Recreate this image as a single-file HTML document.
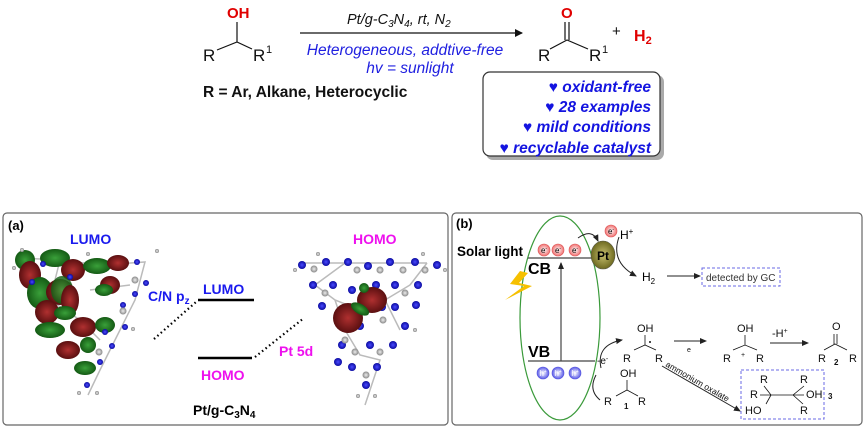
<!DOCTYPE html>
<html><head><style>
body{margin:0;background:#fff;}
svg{display:block;font-family:"Liberation Sans",Arial,sans-serif;}
</style></head><body>
<svg width="866" height="429" viewBox="0 0 866 429" xmlns="http://www.w3.org/2000/svg">
<defs>
<marker id="ah" markerWidth="8" markerHeight="8" refX="7" refY="4" orient="auto" markerUnits="userSpaceOnUse"><path d="M0,0 L8,4 L0,8 Z" fill="#111"/></marker>
<marker id="ahs" markerWidth="7" markerHeight="6" refX="6" refY="3" orient="auto" markerUnits="userSpaceOnUse"><path d="M0,0 L7,3 L0,6 Z" fill="#222"/></marker>
<radialGradient id="gr"><stop offset="0" stop-color="#b03030"/><stop offset="1" stop-color="#5a0f10"/></radialGradient>
<radialGradient id="gg"><stop offset="0" stop-color="#3aa03a"/><stop offset="1" stop-color="#145a14"/></radialGradient>
<radialGradient id="gb"><stop offset="0" stop-color="#4a4aff"/><stop offset="1" stop-color="#0a0aa0"/></radialGradient>
<radialGradient id="gw"><stop offset="0" stop-color="#eee"/><stop offset="1" stop-color="#888"/></radialGradient>
<radialGradient id="ge"><stop offset="0" stop-color="#fff"/><stop offset="1" stop-color="#f07070"/></radialGradient>
<radialGradient id="gh"><stop offset="0" stop-color="#fff"/><stop offset="1" stop-color="#5a5ae8"/></radialGradient>
<radialGradient id="gpt"><stop offset="0" stop-color="#c8c070"/><stop offset="1" stop-color="#6e6a20"/></radialGradient>
</defs>

<!-- Top reaction -->
<g font-size="17" fill="#111">
<text x="227" y="18" fill="#e00000" font-weight="bold" font-size="15">OH</text>
<path d="M237,22 L237,42 M217,50 L237,42 L252,49" stroke="#111" stroke-width="1.2" fill="none"/>
<text x="203" y="61">R</text><text x="253" y="61">R</text><text x="266" y="53" font-size="11">1</text>
<line x1="300" y1="33" x2="522" y2="33" stroke="#111" stroke-width="1.3" marker-end="url(#ah)"/>
<text x="347" y="24" font-style="italic" font-size="14.5">Pt/g-C<tspan font-size="10" dy="3">3</tspan><tspan dy="-3">N</tspan><tspan font-size="10" dy="3">4</tspan><tspan dy="-3">,  rt, N</tspan><tspan font-size="10" dy="3">2</tspan></text>
<text x="405" y="55" font-style="italic" font-size="15.5" fill="#2020e0" text-anchor="middle">Heterogeneous, addtive-free</text>
<text x="410" y="73" font-style="italic" font-size="15.5" fill="#2020e0" text-anchor="middle">hv = sunlight</text>
<text x="561" y="18" fill="#e00000" font-weight="bold" font-size="15">O</text>
<path d="M565,22 L565,40 M569,22 L569,40" stroke="#111" stroke-width="1.2"/>
<path d="M550,49 L567,40 L588,49" stroke="#111" stroke-width="1.2" fill="none"/>
<text x="538" y="61">R</text><text x="589" y="61">R</text><text x="602" y="53" font-size="11">1</text>
<text x="612" y="36" font-size="15">+</text>
<text x="634" y="41" fill="#e00000" font-weight="bold" font-size="16">H<tspan font-size="11" dy="3">2</tspan></text>
<text x="203" y="97" font-weight="bold" font-size="15.5">R = Ar, Alkane, Heterocyclic</text>
</g>
<rect x="486" y="75" width="178" height="85" rx="7" fill="#aaa"/>
<rect x="483" y="72" width="177" height="84" rx="7" fill="#fff" stroke="#333" stroke-width="1.2"/>
<g font-size="15.5" font-weight="bold" font-style="italic" fill="#1414e0" text-anchor="end">
<text x="651" y="92">♥ oxidant-free</text>
<text x="651" y="112">♥ 28 examples</text>
<text x="651" y="132">♥ mild conditions</text>
<text x="651" y="153">♥ recyclable catalyst</text>
</g>

<!-- Panel a -->
<rect x="3" y="213" width="445" height="212" rx="4" fill="#fff" stroke="#666" stroke-width="1.2"/>
<text x="8" y="230" font-weight="bold" font-size="13">(a)</text>
<text x="70" y="244" font-weight="bold" font-size="14" fill="#1a1aee">LUMO</text>
<text x="353" y="244" font-weight="bold" font-size="14" fill="#ee10ee">HOMO</text>
<text x="148" y="301" font-weight="bold" font-size="14" fill="#1a1aee">C/N p<tspan font-size="10" dy="3">z</tspan></text>
<text x="203" y="294" font-weight="bold" font-size="14" fill="#1a1aee">LUMO</text>
<line x1="198" y1="300" x2="254" y2="300" stroke="#000" stroke-width="2.5"/>
<line x1="198" y1="358" x2="252" y2="358" stroke="#000" stroke-width="2.5"/>
<text x="201" y="380" font-weight="bold" font-size="14" fill="#ee10ee">HOMO</text>
<text x="279" y="356" font-weight="bold" font-size="14" fill="#ee10ee">Pt  5d</text>
<line x1="154" y1="339" x2="196" y2="302" stroke="#000" stroke-width="2.2" stroke-dasharray="1.5,3"/>
<line x1="255" y1="357" x2="304" y2="318" stroke="#000" stroke-width="2.2" stroke-dasharray="1.5,3"/>
<text x="193" y="415" font-weight="bold" font-size="14">Pt/g-C<tspan font-size="10" dy="3">3</tspan><tspan dy="-3">N</tspan><tspan font-size="10" dy="3">4</tspan></text>

<!-- LUMO molecule -->
<g>
<g stroke="#bbb" stroke-width="1.5" fill="none"><path d="M20,258 L60,260 L100,265 L145,262 L135,300 L120,330 L100,370 L88,395 M60,260 L50,300 L80,320 L100,340 M90,290 L130,285"/></g>
<ellipse cx="25" cy="260" rx="10" ry="10" fill="url(#gg)"/>
<ellipse cx="30" cy="275" rx="11" ry="14" fill="url(#gr)"/>
<ellipse cx="55" cy="258" rx="15" ry="9" fill="url(#gg)"/>
<ellipse cx="73" cy="270" rx="12" ry="11" fill="url(#gr)"/>
<ellipse cx="97" cy="266" rx="14" ry="8" fill="url(#gg)"/>
<ellipse cx="118" cy="263" rx="11" ry="8" fill="url(#gr)"/>
<ellipse cx="40" cy="293" rx="13" ry="16" fill="url(#gg)"/>
<ellipse cx="60" cy="292" rx="14" ry="13" fill="url(#gr)"/>
<ellipse cx="62" cy="290" rx="11" ry="14" fill="url(#gg)" opacity="0.85"/>
<ellipse cx="70" cy="300" rx="9" ry="15" fill="url(#gr)"/>
<ellipse cx="47" cy="312" rx="12" ry="12" fill="url(#gr)"/>
<ellipse cx="65" cy="313" rx="11" ry="7" fill="url(#gg)"/>
<ellipse cx="50" cy="330" rx="15" ry="8" fill="url(#gg)"/>
<ellipse cx="83" cy="327" rx="13" ry="10" fill="url(#gr)"/>
<ellipse cx="105" cy="325" rx="10" ry="8" fill="url(#gg)"/>
<ellipse cx="110" cy="285" rx="10" ry="9" fill="url(#gr)"/>
<ellipse cx="88" cy="345" rx="8" ry="8" fill="url(#gg)"/>
<ellipse cx="68" cy="350" rx="12" ry="9" fill="url(#gr)"/>
<ellipse cx="85" cy="368" rx="11" ry="7" fill="url(#gg)"/>
<ellipse cx="104" cy="290" rx="9" ry="6" fill="url(#gg)"/>
<g fill="url(#gb)"><circle cx="43" cy="264" r="3"/><circle cx="70" cy="277" r="3"/><circle cx="137" cy="262" r="3"/><circle cx="135" cy="294" r="3"/><circle cx="123" cy="305" r="3"/><circle cx="105" cy="332" r="3"/><circle cx="100" cy="362" r="3"/><circle cx="112" cy="346" r="3"/><circle cx="32" cy="282" r="3"/><circle cx="87" cy="385" r="3"/><circle cx="125" cy="327" r="3"/><circle cx="146" cy="283" r="3"/></g>
<g fill="url(#gw)"><circle cx="135" cy="280" r="3.5"/><circle cx="123" cy="311" r="3.5"/><circle cx="99" cy="352" r="3.5"/><circle cx="22" cy="250" r="2"/><circle cx="88" cy="254" r="2"/><circle cx="157" cy="251" r="2"/><circle cx="133" cy="329" r="2"/><circle cx="79" cy="393" r="2"/><circle cx="97" cy="393" r="2"/><circle cx="14" cy="268" r="2"/></g>
</g>

<!-- HOMO molecule -->
<g>
<g stroke="#bbb" stroke-width="1.5" fill="none">
<path d="M302,263 L345,263 L380,263 L427,263 M315,285 L335,300 L360,310 L385,300 L410,285 M345,330 L360,355 L380,360 L370,390 L365,405 M315,285 L345,263 M410,285 L427,263 M335,300 L345,330 M385,300 L400,330"/>
</g>
<g fill="url(#gb)">
<circle cx="302" cy="265" r="4"/><circle cx="326" cy="262" r="4"/><circle cx="348" cy="262" r="4"/><circle cx="368" cy="266" r="4"/><circle cx="390" cy="262" r="4"/><circle cx="415" cy="262" r="4"/><circle cx="437" cy="265" r="4"/>
<circle cx="313" cy="285" r="4"/><circle cx="333" cy="285" r="4"/><circle cx="352" cy="290" r="4"/><circle cx="395" cy="285" r="4"/><circle cx="418" cy="285" r="4"/><circle cx="376" cy="285" r="4"/>
<circle cx="322" cy="306" r="4"/><circle cx="345" cy="310" r="4"/><circle cx="395" cy="307" r="4"/><circle cx="416" cy="305" r="4"/><circle cx="382" cy="307" r="4"/>
<circle cx="405" cy="326" r="4"/><circle cx="360" cy="326" r="4"/><circle cx="342" cy="345" r="4"/><circle cx="370" cy="345" r="4"/><circle cx="393" cy="345" r="4"/>
<circle cx="352" cy="367" r="4"/><circle cx="377" cy="367" r="4"/><circle cx="338" cy="362" r="4"/><circle cx="366" cy="385" r="4"/>
</g>
<g fill="url(#gw)">
<circle cx="314" cy="269" r="3.5"/><circle cx="357" cy="270" r="3.5"/><circle cx="380" cy="270" r="3.5"/><circle cx="403" cy="270" r="3.5"/><circle cx="425" cy="270" r="3.5"/><circle cx="325" cy="293" r="3.5"/><circle cx="405" cy="293" r="3.5"/><circle cx="365" cy="300" r="3.5"/><circle cx="383" cy="320" r="3.5"/><circle cx="355" cy="352" r="3.5"/><circle cx="380" cy="352" r="3.5"/><circle cx="366" cy="375" r="3.5"/><circle cx="345" cy="340" r="3.5"/>
<circle cx="295" cy="270" r="2"/><circle cx="445" cy="270" r="2"/><circle cx="318" cy="254" r="2"/><circle cx="423" cy="254" r="2"/><circle cx="358" cy="396" r="2"/><circle cx="375" cy="396" r="2"/><circle cx="415" cy="330" r="2"/>
</g>
<ellipse cx="372" cy="300" rx="15" ry="13" fill="url(#gr)"/>
<ellipse cx="348" cy="318" rx="15" ry="15" fill="url(#gr)"/>
<ellipse cx="360" cy="309" rx="10" ry="5" fill="url(#gg)" transform="rotate(30 360 309)"/>
<ellipse cx="364" cy="288" rx="5" ry="5" fill="url(#gg)"/>
</g>

<!-- Panel b -->
<rect x="452" y="213" width="410" height="212" rx="4" fill="#fff" stroke="#666" stroke-width="1.2"/>
<text x="456" y="228" font-weight="bold" font-size="13">(b)</text>
<text x="457" y="256" font-weight="bold" font-size="13.5">Solar light</text>
<ellipse cx="560" cy="318" rx="40" ry="102" fill="none" stroke="#3a9a3a" stroke-width="1.2"/>
<line x1="528" y1="258" x2="595" y2="258" stroke="#444" stroke-width="1.2"/>
<line x1="528" y1="361" x2="595" y2="361" stroke="#444" stroke-width="1.2"/>
<line x1="561" y1="361" x2="561" y2="263" stroke="#444" stroke-width="1.2" marker-end="url(#ahs)"/>
<text x="528" y="274" font-weight="bold" font-size="16">CB</text>
<text x="528" y="357" font-weight="bold" font-size="16">VB</text>
<polygon points="520,271 510,284 524,286 505,300 532,286 519,283 528,273" fill="#f6c000"/>
<g font-size="8" text-anchor="middle">
<circle cx="544" cy="250" r="6" fill="url(#ge)" stroke="#d55" stroke-width="0.6"/><text x="544" y="253">e<tspan dy="-3" font-size="5">-</tspan></text>
<circle cx="558" cy="250" r="6" fill="url(#ge)" stroke="#d55" stroke-width="0.6"/><text x="558" y="253">e<tspan dy="-3" font-size="5">-</tspan></text>
<circle cx="575" cy="250" r="6" fill="url(#ge)" stroke="#d55" stroke-width="0.6"/><text x="575" y="253">e<tspan dy="-3" font-size="5">-</tspan></text>
<circle cx="611" cy="231" r="6" fill="url(#ge)" stroke="#d55" stroke-width="0.6"/><text x="611" y="234">e<tspan dy="-3" font-size="5">-</tspan></text>
<circle cx="543" cy="373" r="6" fill="url(#gh)" stroke="#55d" stroke-width="0.6"/><text x="543" y="376" fill="#fff">h<tspan dy="-3" font-size="5">+</tspan></text>
<circle cx="558" cy="373" r="6" fill="url(#gh)" stroke="#55d" stroke-width="0.6"/><text x="558" y="376" fill="#fff">h<tspan dy="-3" font-size="5">+</tspan></text>
<circle cx="575" cy="373" r="6" fill="url(#gh)" stroke="#55d" stroke-width="0.6"/><text x="575" y="376" fill="#fff">h<tspan dy="-3" font-size="5">+</tspan></text>
</g>
<ellipse cx="603" cy="255" rx="12" ry="14" fill="url(#gpt)" stroke="#554" stroke-width="0.6"/>
<text x="603" y="260" font-weight="bold" font-size="12" text-anchor="middle">Pt</text>
<path d="M578,238 Q592,228 598,241" fill="none" stroke="#222" stroke-width="1" marker-end="url(#ahs)"/>
<path d="M619,237 Q610,262 636,276" fill="none" stroke="#222" stroke-width="1" marker-end="url(#ahs)"/>
<text x="620" y="239" font-size="12">H<tspan font-size="8" dy="-5">+</tspan></text>
<text x="642" y="281" font-size="12">H<tspan font-size="8" dy="3">2</tspan></text>
<line x1="667" y1="276" x2="700" y2="276" stroke="#222" stroke-width="1" marker-end="url(#ahs)"/>
<rect x="702" y="268" width="78" height="18" fill="none" stroke="#6a6ae6" stroke-width="1" stroke-dasharray="3,2"/>
<text x="706" y="281" font-size="10" fill="#333">detected by GC</text>

<g font-size="11" fill="#111">
<path d="M601,368 Q596,345 622,340" fill="none" stroke="#222" stroke-width="1" marker-end="url(#ahs)"/>
<text x="597" y="364" font-size="10">-e<tspan dy="-3" font-size="7">-</tspan></text>
<path d="M596,375 Q588,390 600,400" fill="none" stroke="#222" stroke-width="1"/>
<text x="637" y="332">OH</text>
<path d="M645,335 L645,345 M634,350 L645,345 L656,350" stroke="#111" stroke-width="0.8" fill="none"/>
<circle cx="650" cy="342" r="1" fill="#111"/>
<text x="623" y="362">R</text><text x="655" y="362">R</text>
<line x1="674" y1="341" x2="706" y2="341" stroke="#222" stroke-width="1" marker-end="url(#ahs)"/>
<text x="687" y="352" font-size="7">e</text>
<text x="737" y="332">OH</text>
<path d="M745,335 L745,345 M733,350 L745,345 L757,350" stroke="#111" stroke-width="0.8" fill="none"/>
<text x="723" y="362">R</text><text x="756" y="362">R</text><text x="741" y="357" font-size="7">+</text>
<line x1="770" y1="343" x2="808" y2="343" stroke="#222" stroke-width="1" marker-end="url(#ahs)"/>
<text x="772" y="337">-H<tspan font-size="7" dy="-4">+</tspan></text>
<text x="832" y="330">O</text>
<path d="M834,334 L834,344 M837,334 L837,344 M824,350 L835,344 L847,350" stroke="#111" stroke-width="0.8" fill="none"/>
<text x="818" y="362">R</text><text x="849" y="362">R</text><text x="834" y="365" font-size="8" font-weight="bold">2</text>
<text x="620" y="377">OH</text>
<path d="M627,380 L627,390 M616,396 L627,390 L638,396" stroke="#111" stroke-width="0.8" fill="none"/>
<text x="604" y="405">R</text><text x="638" y="405">R</text><text x="624" y="409" font-size="8" font-weight="bold">1</text>
<line x1="662" y1="366" x2="740" y2="411" stroke="#222" stroke-width="1" marker-end="url(#ahs)"/>
<text x="665" y="366" font-size="8.5" transform="rotate(30 665 366)">ammonium oxalate</text>
<rect x="741" y="370" width="83" height="49" fill="none" stroke="#6a6ae6" stroke-width="1" stroke-dasharray="3,2"/>
<text x="760" y="383">R</text><text x="800" y="383">R</text>
<text x="750" y="398">R</text><text x="806" y="398">OH</text>
<text x="745" y="414">HO</text><text x="800" y="414">R</text>
<path d="M764,386 L771,395 L793,395 L804,386 M771,395 L766,404 M793,395 L803,404 M760,395 L771,395 M793,395 L804,395" stroke="#111" stroke-width="0.8" fill="none"/>
<text x="828" y="399" font-size="8" font-weight="bold">3</text>
</g>
</svg>
</body></html>
